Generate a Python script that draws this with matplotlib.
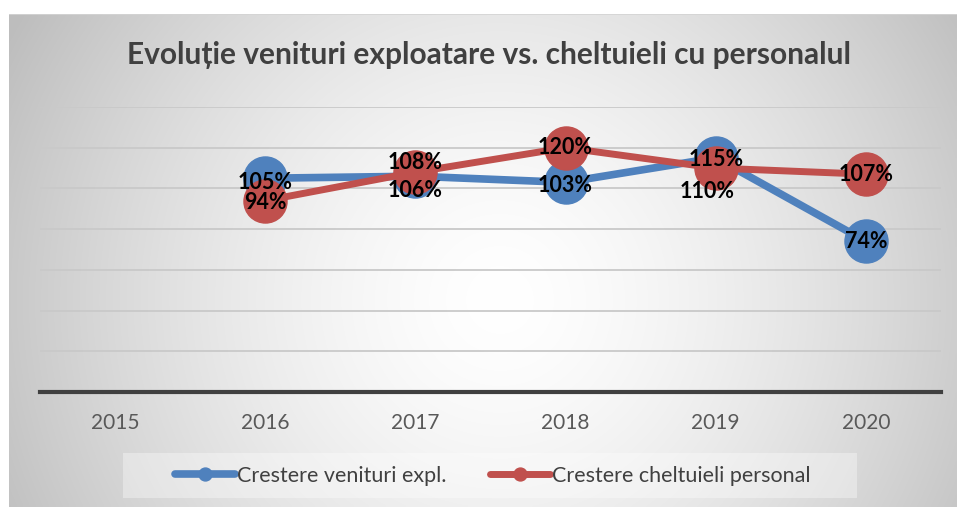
import numpy as np
import matplotlib.pyplot as plt
from matplotlib.patches import Rectangle

# data
years = ['2015', '2016', '2017', '2018', '2019', '2020']
venituri = [np.nan, 105, 106, 103, 115, 74]
cheltuieli = [np.nan, 94, 108, 120, 110, 107]
title = 'Evoluție venituri exploatare vs. cheltuieli cu personalul'
series_names = ['Crestere venituri expl.', 'Crestere cheltuieli personal']

# label offsets (points) - some labels sit above/below the marker
off_ven = [(0, 0), (0, -3), (0, -10), (0, -2), (0, -1), (0, 0)]
off_ch = [(0, 0), (0, -1), (0, 7), (0, 0), (-6, -17), (0, 0)]

blue = '#4f81bd'
red = '#c0504d'

plt.rcParams['font.family'] = ['Lato', 'DejaVu Sans']

W, H = 957, 507
fig = plt.figure(figsize=(W / 100, H / 100), dpi=100)
fig.patch.set_facecolor('white')

# background box with radial gradient
box_l, box_t = 9, 14
bg = fig.add_axes([box_l / W, 0, 1 - box_l / W, (H - box_t) / H])
bg.set_axis_off()
xx, yy = np.meshgrid(np.arange(box_l, W), np.arange(box_t, H))
r = np.hypot(xx - 500, yy - 300) / 560
val = 255 - 66 * np.clip(r, 0, 1) ** 1.5
img = np.dstack([val, val, val]).astype(np.uint8)
bg.imshow(img, aspect='auto', extent=(0, 1, 0, 1), interpolation='bilinear')
bg.set_xlim(0, 1)
bg.set_ylim(0, 1)
bg.plot([0, 1], [0.999, 0.999], color='#d4d4d4', lw=1.2)

# main axes
ax_l, ax_r, ax_b, ax_t = 40, 941, 392, 107
ax = fig.add_axes([ax_l / W, (H - ax_b) / H, (ax_r - ax_l) / W, (ax_b - ax_t) / H])
ax.patch.set_alpha(0)
x = np.arange(len(years))

ax.plot(x, venituri, color=blue, lw=5.5, marker='o', markersize=31,
        solid_capstyle='round', label=series_names[0], zorder=3)
ax.plot(x, cheltuieli, color=red, lw=5, marker='o', markersize=31,
        solid_capstyle='round', label=series_names[1], zorder=4)

for i in range(len(years)):
    if not np.isnan(venituri[i]):
        ax.annotate(f'{venituri[i]:.0f}%', (x[i], venituri[i]), xytext=off_ven[i],
                    textcoords='offset points', ha='center', va='center',
                    fontsize=15.5, fontweight='bold', color='black', zorder=6)
    if not np.isnan(cheltuieli[i]):
        ax.annotate(f'{cheltuieli[i]:.0f}%', (x[i], cheltuieli[i]), xytext=off_ch[i],
                    textcoords='offset points', ha='center', va='center',
                    fontsize=15.5, fontweight='bold', color='black', zorder=6)

ax.set_xlim(-0.5, len(years) - 0.5)
ax.set_ylim(0, 140)
ax.set_yticks(np.arange(20, 141, 20))
ax.yaxis.grid(True, color='#c9c9c9', lw=1.3)
ax.set_axisbelow(True)
ax.set_yticklabels([])
ax.tick_params(axis='y', length=0)
ax.set_xticks(x)
ax.set_xticklabels(years, fontsize=15, color='#595959')
ax.tick_params(axis='x', length=0, pad=15)
for s in ['top', 'right', 'left']:
    ax.spines[s].set_visible(False)
ax.spines['bottom'].set_color('#404040')
ax.spines['bottom'].set_linewidth(3)
ax.spines['bottom'].set_zorder(5)

# title
fig.text(489 / W, 1 - 55 / H, title, ha='center', va='center',
         fontsize=21.5, fontweight='bold', color='#404040')

# legend
fig.patches.append(Rectangle((123 / W, 1 - 498 / H), (857 - 123) / W, 45 / H,
                             transform=fig.transFigure, facecolor='#ffffff',
                             alpha=0.35, edgecolor='none', zorder=1))
fig.legend(loc='center', bbox_to_anchor=(493 / W, 1 - 475.5 / H), ncol=2,
           frameon=False, fontsize=15.5, handlelength=2.8, markerscale=0.3,
           columnspacing=2.0, handletextpad=0.1, labelcolor='#404040')

fig.savefig('out.png', dpi=100)
